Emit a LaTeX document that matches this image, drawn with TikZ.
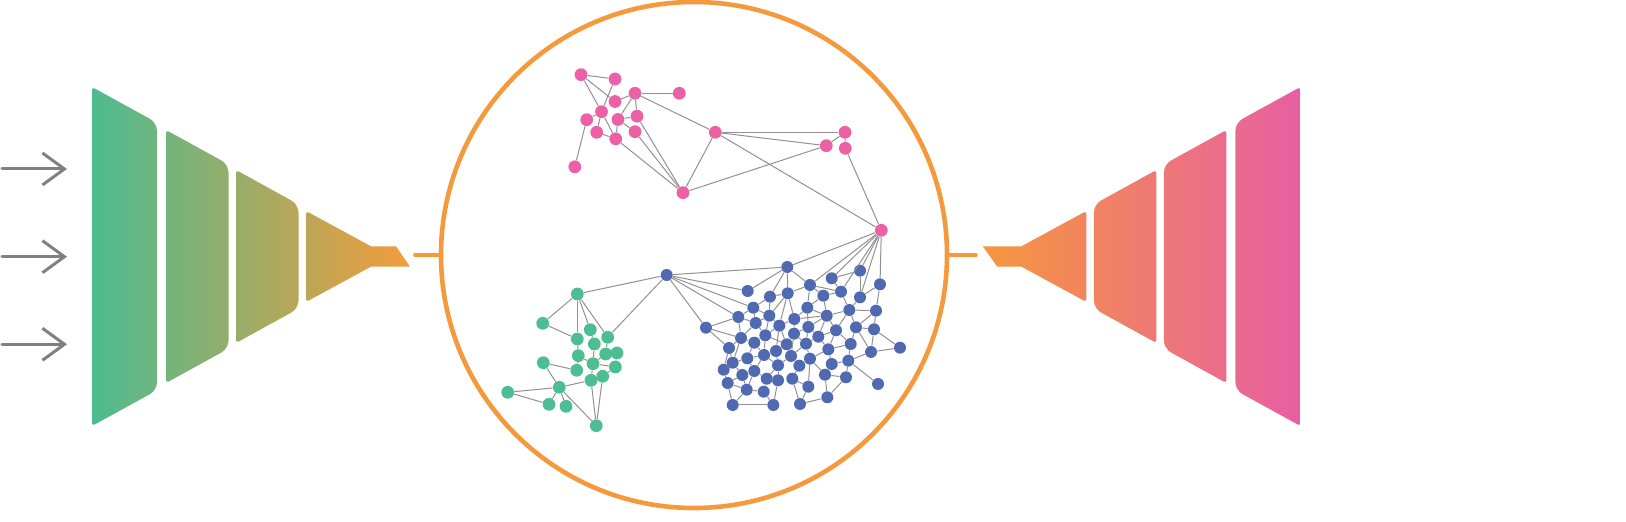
\documentclass[tikz,border=0pt]{standalone}
\usetikzlibrary{arrows.meta}
\definecolor{fgreen}{RGB}{77,187,143}
\definecolor{forange}{RGB}{243,156,60}
\definecolor{rorange}{RGB}{246,151,62}
\definecolor{rpink}{RGB}{231,95,163}
\definecolor{ringc}{RGB}{245,154,60}
\definecolor{npink}{RGB}{236,96,165}
\definecolor{nblue}{RGB}{80,106,178}
\definecolor{ngreen}{RGB}{77,190,145}
\definecolor{egray}{RGB}{145,145,145}
\definecolor{agray}{RGB}{128,128,128}
\begin{document}
\begin{tikzpicture}[x=0.5pt,y=-0.5pt,
 pn/.style={circle,fill=npink,inner sep=0,minimum size=6.4pt},
 bn/.style={circle,fill=nblue,inner sep=0,minimum size=6pt},
 gn/.style={circle,fill=ngreen,inner sep=0,minimum size=6.4pt},
 edge/.style={draw=egray,line width=0.5pt},
 conn/.style={draw=ringc,line width=1.8pt,line cap=round},
 inarrow/.style={draw=agray,line width=1.5pt,line cap=round,-{Straight Barb[length=11pt,width=16pt]}},
 ringstyle/.style={circle,draw=ringc,line width=2.3pt,inner sep=0,minimum size=253pt}]
\useasboundingbox (0,0) rectangle (1626,522);

% input arrows
\foreach \i/\yy in {1/169,2/256.7,3/344.3}{
  \coordinate (ins\i) at (2,\yy);
  \coordinate (ine\i) at (67,\yy);
  \draw[inarrow] (ins\i) -- (ine\i);
}

% left funnel (encoder)
\begin{scope}
\clip (92,256.5) [rounded corners=1.5pt] -- (92,87) [rounded corners=4pt] -- (157,122.75) -- (157,390.25) [rounded corners=1.5pt] -- (92,426) -- cycle
      (166,256.5) [rounded corners=1.5pt] -- (166,130) [rounded corners=4pt] -- (228.5,164.4) -- (228.5,348.6) [rounded corners=1.5pt] -- (166,383) -- cycle
      (236,256.5) [rounded corners=1.5pt] -- (236,170) [rounded corners=4pt] -- (298.5,204.4) -- (298.5,308.6) [rounded corners=1.5pt] -- (236,343) -- cycle
      (306,256.5) [rounded corners=1.5pt] -- (306,211) [sharp corners] -- (371,246.3) -- (396,246.3) -- (410,266.7) -- (371,266.7) [rounded corners=1.5pt] -- (306,302) -- cycle;
\shade[left color=fgreen,right color=forange] (92,80) rectangle (410,430);
\end{scope}

% right funnel (decoder)
\begin{scope}
\clip (1086.4,256.5) [rounded corners=1.5pt] -- (1086.4,211) [sharp corners] -- (1021.4,246.3) -- (982.7,246.3) -- (997.3,266.7) -- (1021.4,266.7) [rounded corners=1.5pt] -- (1086.4,302) -- cycle
      (1156.4,256.5) [rounded corners=1.5pt] -- (1156.4,170) [rounded corners=4pt] -- (1093.9,204.4) -- (1093.9,308.6) [rounded corners=1.5pt] -- (1156.4,343) -- cycle
      (1226.4,256.5) [rounded corners=1.5pt] -- (1226.4,130) [rounded corners=4pt] -- (1163.9,164.4) -- (1163.9,348.6) [rounded corners=1.5pt] -- (1226.4,383) -- cycle
      (1300.4,256.5) [rounded corners=1.5pt] -- (1300.4,87) [rounded corners=4pt] -- (1235.4,122.75) -- (1235.4,390.25) [rounded corners=1.5pt] -- (1300.4,426) -- cycle;
\shade[left color=rorange,right color=rpink] (982.7,80) rectangle (1300.4,430);
\end{scope}

% latent ring
\node[ringstyle] (ring) at (694,255) {};
\coordinate (lc) at (415,255);
\coordinate (rc) at (976,255);
\draw[conn] (lc) -- (ring.west);
\draw[conn] (ring.east) -- (rc);

% pink nodes
\node[pn] (p1) at (581,74.7) {};
\node[pn] (p2) at (615,79) {};
\node[pn] (p3) at (635,93.3) {};
\node[pn] (p4) at (679.3,93.3) {};
\node[pn] (p5) at (615,101.5) {};
\node[pn] (p6) at (601.5,111.7) {};
\node[pn] (p7) at (586.7,119.7) {};
\node[pn] (p8) at (618,119.5) {};
\node[pn] (p9) at (637,116.2) {};
\node[pn] (p10) at (596.7,132.3) {};
\node[pn] (p11) at (615.7,138.8) {};
\node[pn] (p12) at (635,131.7) {};
\node[pn] (p13) at (574.8,166.8) {};
\node[pn] (p14) at (715.3,132.3) {};
\node[pn] (p15) at (683,192.7) {};
\node[pn] (p16) at (845,132.3) {};
\node[pn] (p17) at (826.3,145.7) {};
\node[pn] (p18) at (845.3,148.3) {};
\node[pn] (p19) at (881.3,230.3) {};

% green nodes
\node[gn] (g1) at (577.3,294) {};
\node[gn] (g2) at (542.7,323.3) {};
\node[gn] (g3) at (590.3,329.7) {};
\node[gn] (g4) at (577.3,339) {};
\node[gn] (g5) at (607.7,337.3) {};
\node[gn] (g6) at (594.3,344) {};
\node[gn] (g7) at (578.3,355.7) {};
\node[gn] (g8) at (605.7,354) {};
\node[gn] (g9) at (617,353) {};
\node[gn] (g10) at (593,363.7) {};
\node[gn] (g11) at (615.3,367) {};
\node[gn] (g12) at (543.3,362.7) {};
\node[gn] (g13) at (576.7,370.3) {};
\node[gn] (g14) at (602.7,376.3) {};
\node[gn] (g15) at (591,380.3) {};
\node[gn] (g16) at (559.3,387.3) {};
\node[gn] (g17) at (507.7,392.3) {};
\node[gn] (g18) at (549,404.3) {};
\node[gn] (g19) at (566,406.3) {};
\node[gn] (g20) at (596.3,425.7) {};

% blue nodes
\node[bn] (b0) at (666.7,275) {};
\foreach \n/\xx/\yy in {
 a/787.3/267, b/747.7/291, c/770/296.7, d/787.7/293.3, D/810/285, C/831.7/278.3,
 B/860/270.7, E/880/284.3, F/841/291.7, G/823.3/295.7, H/860/297.3,
 f/753.3/307.7, g/738.3/317, h/769.3/315.7, i/755.7/323, j/779.3/325.7, k/794.3/319,
 J/807.3/307.7, K/849.3/310, L/876/310.7, M/826.7/315.7, l/706/327.7, m/741/338,
 n/765.3/335.3, o/794/333.7, O/808.3/327, R/836/330.3, P/856/327.3, Q/874/329.3,
 p/729/348, q/754.3/342.7, s/786.7/344.3, S/818.3/336.7, V/806/343.7, U/850.7/344,
 Y/828.3/349.3, X/871/352, W/900/347.7, r/776/351, u/764/355, t/747.3/358.3,
 v/791/356, AA/810/358.7, AB/848.3/360.7, AD/831.7/364, w/732.7/362.7, x/723.7/369.7,
 z/778/365.3, aa/799.3/365.7, y/754.3/371, ab/742.3/375, ac/766.7/378.7, ad/778/380.3,
 ae/792.3/378.7, AE/825/374.7, AF/846/377.3, AI/878/384, af/727.7/383, ag/746.7/389.7,
 ah/763.7/391.7, AH/808.3/386.7, ai/732.7/405, aj/773.3/405, ak/800/404, AJ/827.3/397.3}
 {\node[bn] (\n) at (\xx,\yy) {};}

% edges
\foreach \u/\v in {p1/p2, p1/p6, p1/p5, p2/p6, p5/p3, p3/p4, p3/p14, p3/p8, p3/p9,
 p6/p7, p6/p10, p6/p11, p7/p13, p8/p9, p8/p11, p8/p12, p10/p11, p9/p15, p12/p15,
 p11/p15, p14/p15, p14/p16, p14/p17, p14/p19, p15/p17, p16/p17, p16/p18, p18/p19,
 p19/a, p19/D, p19/C, p19/F, p19/B, p19/E, p19/H}
 {\draw[edge] (\u) -- (\v);}
\foreach \u/\v in {g1/b0, g5/b0, g1/g2, g1/g4, g1/g3, g1/g5, g2/g4, g4/g7, g3/g6,
 g5/g8, g6/g10, g7/g10, g7/g13, g8/g9, g8/g10, g10/g11, g9/g11, g10/g15, g12/g13,
 g12/g16, g16/g15, g16/g17, g17/g18, g16/g18, g16/g19, g16/g20, g15/g20, g14/g20,
 g14/g11, g14/g15}
 {\draw[edge] (\u) -- (\v);}
\foreach \u/\v in {b0/a, b0/b, b0/f, b0/g, b0/l,
 a/b, a/d, a/D, a/c, c/d, c/h, c/f, d/h, d/j, d/k, d/D, D/J, D/G, D/F, C/B, C/F,
 B/H, E/L, E/H, F/K, F/G, G/M, G/J, H/K, f/g, f/h, f/i, g/l, g/i, g/m, h/i, h/j, h/n,
 i/m, i/n, j/k, j/n, j/r, j/s, k/J, k/o, k/M, J/O, J/M, K/M, K/R, K/L, K/P, L/P, L/Q,
 M/O, M/R, M/S, l/m, l/p, m/p, m/q, m/w, n/q, n/u, n/s, o/O, o/s, o/v, o/V, O/S, O/V,
 R/S, R/Y, R/U, P/Q, P/U, P/X, Q/X, X/W, W/Q, X/AB, U/Y, U/AB, S/V, S/Y, V/AA, V/v,
 Y/AD, Y/AA, p/w, p/x, q/t, q/u, s/r, s/v, r/u, r/z, u/t, u/y, u/z, t/w, t/y, v/aa,
 v/z, AA/aa, AA/AE, AA/AH, AB/AD, AB/AF, AB/AI, AD/AE, w/x, w/ab, x/af, z/ad, z/ac,
 aa/ae, y/ab, y/ac, y/ag, ab/af, ab/ag, ac/ah, ac/ad, ad/aj, ae/ak, ae/AH, AE/AF,
 AE/AJ, AF/AJ, af/ai, af/ag, ag/ai, ag/ah, ah/aj, ai/aj, ak/AJ, AH/ak}
 {\draw[edge] (\u) -- (\v);}
\end{tikzpicture}
\end{document}
